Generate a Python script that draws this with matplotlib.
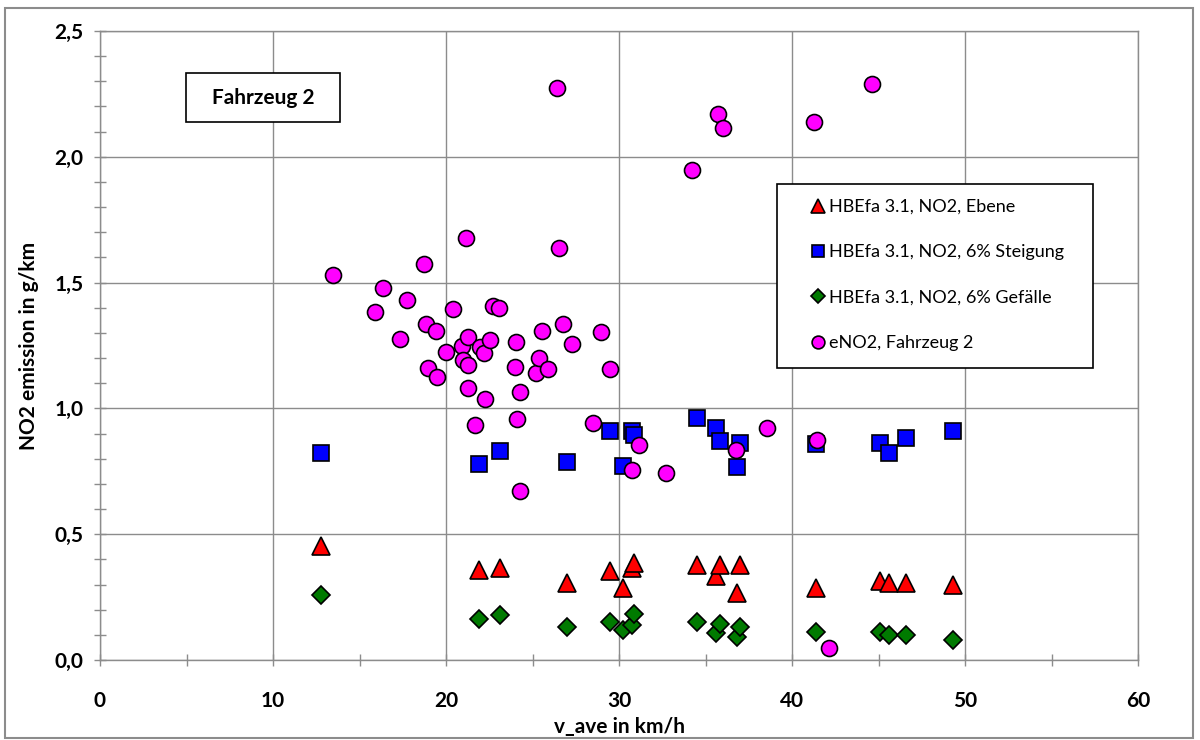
import matplotlib
matplotlib.use("Agg")
import matplotlib.pyplot as plt
from matplotlib.patches import Rectangle
from matplotlib.ticker import MultipleLocator, FuncFormatter

plt.rcParams['font.family'] = ['Lato', 'DejaVu Sans']

# HBEFA 3.1 reference values per test trip (average speed in km/h)
v_hbefa = [12.75, 21.93, 23.12, 26.97, 29.50, 30.25, 30.77, 30.88,
           34.49, 35.60, 35.84, 36.80, 36.99, 41.37, 45.09, 45.63, 46.59, 49.29]
no2_ebene = [0.454, 0.358, 0.364, 0.305, 0.355, 0.285, 0.367, 0.387,
             0.378, 0.335, 0.378, 0.268, 0.378, 0.285, 0.315, 0.305, 0.307, 0.298]
no2_steigung = [0.822, 0.779, 0.831, 0.788, 0.911, 0.771, 0.911, 0.894,
                0.960, 0.921, 0.872, 0.768, 0.861, 0.858, 0.861, 0.822, 0.881, 0.910]
no2_gefaelle = [0.258, 0.162, 0.179, 0.130, 0.150, 0.119, 0.139, 0.182,
                0.150, 0.109, 0.142, 0.090, 0.130, 0.110, 0.110, 0.099, 0.099, 0.079]

# Measured NO2 emissions, vehicle 2
v_meas = [13.45, 15.90, 16.38, 17.34, 17.76, 18.73, 18.84, 18.98, 19.42, 19.50,
          20.00, 20.38, 20.92, 21.00, 21.17, 21.25, 21.30, 21.25, 21.70, 21.98,
          22.21, 22.25, 22.54, 22.69, 23.08, 24.02, 23.99, 24.10, 24.30, 24.28,
          25.20, 25.40, 25.53, 25.88, 26.40, 26.53, 26.78, 27.30, 28.52, 28.96,
          29.48, 30.77, 31.16, 32.70, 34.24, 35.74, 36.03, 36.76, 38.57, 41.29,
          41.43, 42.14, 44.60]
eno2 = [1.531, 1.384, 1.477, 1.277, 1.431, 1.574, 1.335, 1.159, 1.309, 1.124,
        1.224, 1.394, 1.248, 1.194, 1.676, 1.285, 1.172, 1.080, 0.936, 1.245,
        1.220, 1.036, 1.272, 1.408, 1.400, 1.265, 1.163, 0.958, 1.067, 0.673,
        1.139, 1.199, 1.308, 1.157, 2.275, 1.636, 1.334, 1.256, 0.941, 1.302,
        1.157, 0.755, 0.855, 0.745, 1.948, 2.169, 2.113, 0.835, 0.921, 2.138,
        0.874, 0.049, 2.289]

labels = ["HBEfa 3.1, NO2, Ebene", "HBEfa 3.1, NO2, 6% Steigung",
          "HBEfa 3.1, NO2, 6% Gefälle", "eNO2, Fahrzeug 2"]

grid_c = "#8c8c8c"

fig = plt.figure(figsize=(12, 7.4), dpi=100)
ax = fig.add_axes([100 / 1200, 1 - 660 / 740, 1038 / 1200, 629 / 740])

h1, = ax.plot(v_hbefa, no2_ebene, ls="none", marker="^", ms=12.5, mfc="#ff0000",
              mec="black", mew=1.2, label=labels[0], zorder=3)
h2, = ax.plot(v_hbefa, no2_steigung, ls="none", marker="s", ms=11.5, mfc="#0000ff",
              mec="black", mew=1.2, label=labels[1], zorder=3)
h3, = ax.plot(v_hbefa, no2_gefaelle, ls="none", marker="D", ms=9.5, mfc="#007a00",
              mec="black", mew=1.2, label=labels[2], zorder=3)
h4, = ax.plot(v_meas, eno2, ls="none", marker="o", ms=11.5, mfc="#ff00ff",
              mec="black", mew=1.2, label=labels[3], zorder=3)

ax.set_xlim(0, 60)
ax.set_ylim(0, 2.5)
ax.xaxis.set_major_locator(MultipleLocator(10))
ax.xaxis.set_minor_locator(MultipleLocator(5))
ax.yaxis.set_major_locator(MultipleLocator(0.5))
ax.yaxis.set_minor_locator(MultipleLocator(0.1))
ax.yaxis.set_major_formatter(FuncFormatter(lambda v, p: f"{v:.1f}".replace(".", ",")))
ax.xaxis.set_major_formatter(FuncFormatter(lambda v, p: f"{v:.0f}"))

ax.grid(True, which="major", color=grid_c, lw=1.0, zorder=0)
ax.set_axisbelow(True)
for s in ax.spines.values():
    s.set_color(grid_c)
    s.set_linewidth(1.0)

ax.tick_params(which="major", direction="inout", length=8, width=1, color=grid_c,
               labelsize=15)
ax.tick_params(which="minor", direction="inout", length=8, width=1, color=grid_c)
ax.tick_params(axis="y", pad=8)
ax.tick_params(axis="x", pad=18)
for lab in ax.get_xticklabels() + ax.get_yticklabels():
    lab.set_fontweight("bold")

ax.set_xlabel("v_ave in km/h", fontsize=15, fontweight="bold", labelpad=5)
ax.set_ylabel("NO2 emission in g/km", fontsize=15, fontweight="bold", labelpad=11)

# legend box
ax.add_patch(Rectangle((0.652, 0.464), 0.305, 0.293, transform=ax.transAxes,
                       facecolor="white", edgecolor="black", lw=1.2, zorder=4))
leg = ax.legend(handles=[h1, h2, h3, h4], loc="upper left",
                bbox_to_anchor=(0.686, 0.733), frameon=False, fontsize=13,
                handlelength=0.65, handletextpad=0.3, labelspacing=1.63,
                borderpad=0, borderaxespad=0, markerscale=0.8)
leg.set_zorder(5)

# vehicle label box
fig.add_artist(Rectangle((186 / 1200, 1 - 122 / 740), 154 / 1200, 49 / 740,
                         transform=fig.transFigure, facecolor="white",
                         edgecolor="black", lw=1.2, zorder=5))
fig.text(263 / 1200, 1 - 98 / 740, "Fahrzeug 2", ha="center", va="center",
         fontsize=15, fontweight="bold", zorder=6)

# outer chart frame
fig.add_artist(Rectangle((5 / 1200, 2 / 740), 1188 / 1200, 730 / 740,
                         transform=fig.transFigure, facecolor="none",
                         edgecolor=grid_c, lw=1.5))

fig.savefig("out.png", dpi=100)
